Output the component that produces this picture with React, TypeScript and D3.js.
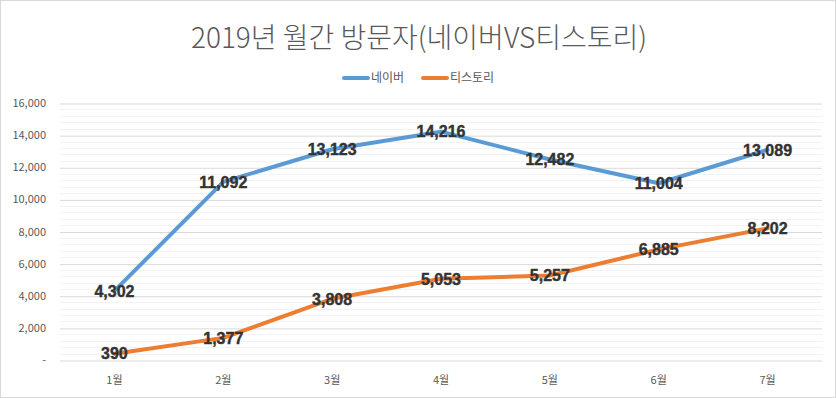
import * as d3 from "d3";
import React from "react";

const months = ["1월", "2월", "3월", "4월", "5월", "6월", "7월"];
const naver = [4302, 11092, 13123, 14216, 12482, 11004, 13089];
const tistory = [390, 1377, 3808, 5053, 5257, 6885, 8202];
const seriesNames = ["네이버", "티스토리"];
const seriesColors = ["#5B9BD5", "#ED7D31"];
const yTicks = [0, 2000, 4000, 6000, 8000, 10000, 12000, 14000, 16000];

const App = () => {
  const ref = React.useRef<SVGSVGElement>(null);

  React.useEffect(() => {
    const w = 836,
      h = 398;
    const margin = { top: 103, right: 14, bottom: 38, left: 60 };
    const svg = d3.select(ref.current);
    svg.selectAll("*").remove();

    svg
      .append("rect")
      .attr("x", 0.5)
      .attr("y", 0.5)
      .attr("width", w - 1)
      .attr("height", h - 1)
      .attr("fill", "#fff")
      .attr("stroke", "#d9d9d9");

    const x = d3
      .scaleBand()
      .domain(months)
      .range([margin.left, w - margin.right]);
    const y = d3
      .scaleLinear()
      .domain([0, 16000])
      .range([h - margin.bottom, margin.top]);

    // minor grid every 400
    const minor = d3.range(0, 16001, 400).filter((v) => v % 2000 !== 0);
    svg
      .append("g")
      .selectAll("line")
      .data(minor)
      .enter()
      .append("line")
      .attr("x1", margin.left)
      .attr("x2", w - margin.right)
      .attr("y1", (d) => Math.round(y(d)) + 0.5)
      .attr("y2", (d) => Math.round(y(d)) + 0.5)
      .attr("stroke", "#f2f2f2");

    const yAxis = d3
      .axisLeft(y)
      .tickValues(yTicks)
      .tickSize(-(w - margin.left - margin.right))
      .tickPadding(14)
      .tickFormat((d) => (d === 0 ? "-" : d3.format(",")(d as number)));
    const gy = svg
      .append("g")
      .attr("transform", "translate(" + margin.left + ",0)")
      .call(yAxis);
    gy.select(".domain").remove();
    gy.selectAll("line").attr("stroke", "#d9d9d9").attr("transform", "translate(0,0.5)");
    gy.selectAll("text")
      .attr("fill", "#595959")
      .style("font-family", "'Noto Sans CJK KR', sans-serif")
      .style("font-size", "11px");

    const xAxis = d3.axisBottom(x).tickSize(0).tickPadding(16);
    const gx = svg
      .append("g")
      .attr("transform", "translate(0," + (h - margin.bottom) + ")")
      .call(xAxis);
    gx.select(".domain").remove();
    gx.selectAll("text")
      .attr("fill", "#595959")
      .style("font-family", "'Noto Sans CJK KR', sans-serif")
      .style("font-size", "11px");

    const cx = (d: string) => (x(d) as number) + x.bandwidth() / 2;
    const line = d3
      .line<number>()
      .x((d, i) => cx(months[i]))
      .y((d) => y(d));

    const all = [naver, tistory];
    all.forEach((vals, si) => {
      svg
        .append("path")
        .datum(vals)
        .attr("d", line)
        .attr("fill", "none")
        .attr("stroke", seriesColors[si])
        .attr("stroke-width", 4)
        .attr("stroke-linejoin", "round")
        .attr("stroke-linecap", "round");
    });

    all.forEach((vals) => {
      svg
        .append("g")
        .selectAll("text")
        .data(vals)
        .enter()
        .append("text")
        .attr("x", (d, i) => cx(months[i]))
        .attr("y", (d) => y(d))
        .attr("dy", "0.36em")
        .attr("text-anchor", "middle")
        .attr("fill", "#333333")
        .attr("stroke", "#333333")
        .attr("stroke-width", 0.4)
        .style("font-family", "'Liberation Sans', Arial, sans-serif")
        .style("font-weight", "bold")
        .style("font-size", "16px")
        .text((d) => d3.format(",")(d));
    });

    // title
    svg
      .append("text")
      .attr("x", w / 2 + 1)
      .attr("y", 48)
      .attr("text-anchor", "middle")
      .attr("fill", "#595959")
      .style("font-family", "'Noto Sans CJK KR', sans-serif")
      .style("font-weight", 300)
      .style("font-size", "28px")
      .text("2019년 월간 방문자(네이버VS티스토리)");

    // legend
    const legendX = [342, 421];
    const lg = svg.append("g");
    seriesNames.forEach((name, i) => {
      lg.append("line")
        .attr("x1", legendX[i] + 2)
        .attr("x2", legendX[i] + 26)
        .attr("y1", 78)
        .attr("y2", 78)
        .attr("stroke", seriesColors[i])
        .attr("stroke-width", 4)
        .attr("stroke-linecap", "round");
      lg.append("text")
        .attr("x", legendX[i] + 29)
        .attr("y", 78)
        .attr("dy", "0.35em")
        .attr("fill", "#595959")
        .style("font-family", "'Noto Sans CJK KR', sans-serif")
        .style("font-size", "12px")
        .text(name);
    });
  }, []);

  return (
    <svg
      ref={ref}
      width={836}
      height={398}
      style={{ position: "absolute", left: 0, top: 0 }}
    ></svg>
  );
};

export default App;
